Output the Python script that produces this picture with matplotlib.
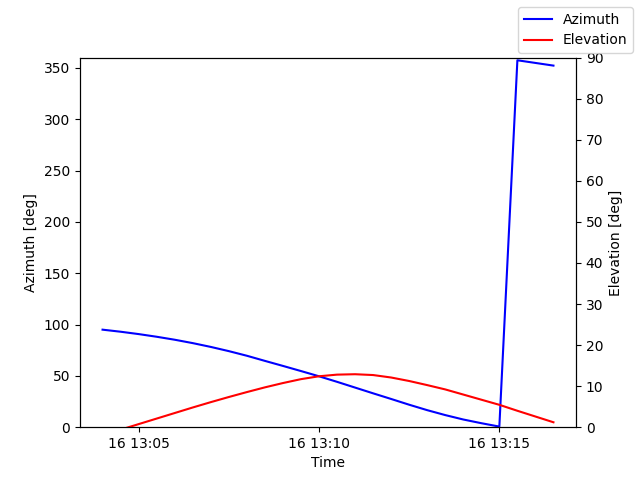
import datetime as dt
import matplotlib
matplotlib.use("Agg")
import matplotlib.pyplot as plt

# pass samples every 30 s starting 13:04:00
start = dt.datetime(2023, 5, 16, 13, 4, 0)
n_samples = 26
times = [start + dt.timedelta(seconds=30 * i) for i in range(n_samples)]

azimuth = [95.0, 93.0, 90.7, 88.1, 85.2, 81.9, 78.2, 74.1, 69.6, 64.6,
           59.7, 54.7, 49.6, 44.2, 38.6, 33.0, 27.5, 21.9, 16.6, 11.8,
           7.5, 3.9, 0.6, 357.4, 354.8, 352.2]

elevation = [-1.9, -0.6, 0.75, 2.1, 3.45, 4.8, 6.1, 7.35, 8.55, 9.7,
             10.75, 11.7, 12.4, 12.8, 12.9, 12.7, 12.1, 11.25, 10.25, 9.2,
             7.95, 6.7, 5.45, 4.0, 2.6, 1.2]

fig, ax1 = plt.subplots(figsize=(6.4, 4.8), dpi=100)
ax1.plot(times, azimuth, color='blue', label='Azimuth')
ax1.set_ylim(0, 360)
ax1.set_xlabel('Time')
ax1.set_ylabel('Azimuth [deg]')

ax2 = ax1.twinx()
ax2.plot(times, elevation, color='red', label='Elevation')
ax2.set_ylim(0, 90)
ax2.set_ylabel('Elevation [deg]')

fig.legend()
fig.savefig('out.png')
